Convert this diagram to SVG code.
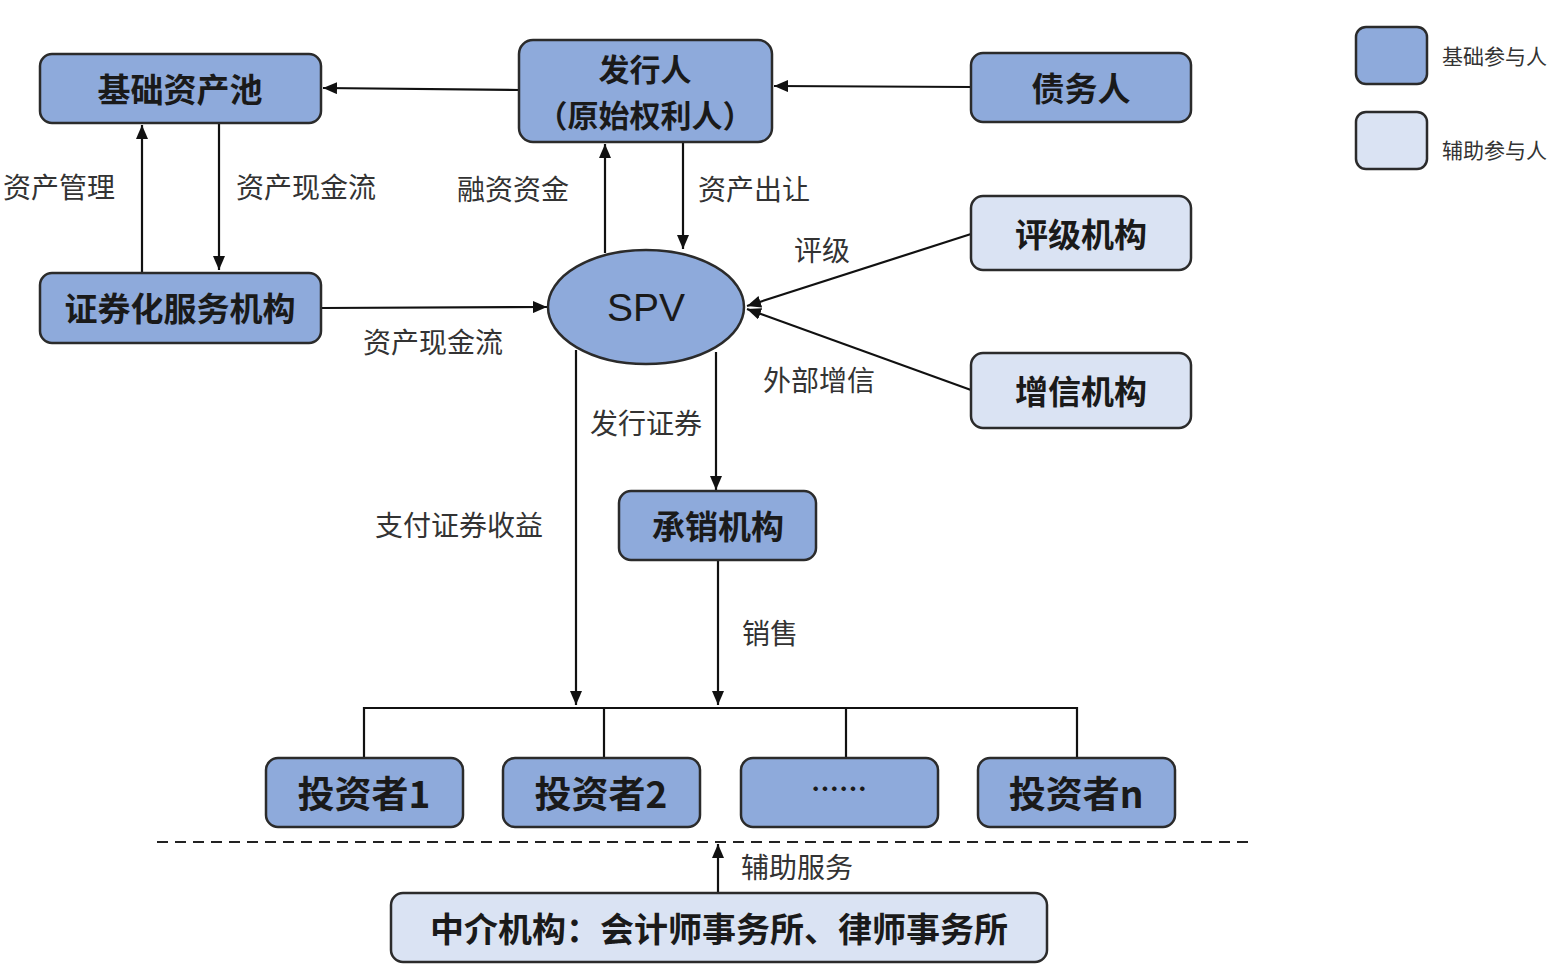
<svg xmlns="http://www.w3.org/2000/svg" width="1559" height="965" viewBox="0 0 1559 965">
<defs>
<marker id="ah" viewBox="0 0 14 12" refX="14" refY="6" markerWidth="14" markerHeight="12" markerUnits="userSpaceOnUse" orient="auto"><path d="M0,0 L14,6 L0,12 z" fill="#111"/></marker>
<style>
.base{fill:#8eaadb;stroke:#2b2b2b;stroke-width:2.5}
.aux{fill:#dae3f3;stroke:#2b2b2b;stroke-width:2.5}
.t{font-family:"Noto Sans CJK SC","Liberation Sans",sans-serif;font-weight:bold;fill:#1a1a1a;text-anchor:middle;dominant-baseline:central}
.l{font-family:"Noto Sans CJK SC","Liberation Sans",sans-serif;fill:#333;font-size:28px;dominant-baseline:central}
.c{fill:none;stroke:#111;stroke-width:2.2}
.ca{fill:none;stroke:#111;stroke-width:2.2;marker-end:url(#ah)}
</style>
</defs>
<rect width="1559" height="965" fill="#fff"/>
<g id="connectors">
<line class="ca" x1="519" y1="90" x2="323" y2="88"/>
<line class="ca" x1="971" y1="87" x2="774" y2="86"/>
<line class="ca" x1="142" y1="273" x2="142" y2="125"/>
<line class="ca" x1="219" y1="124" x2="219" y2="270"/>
<line class="ca" x1="322" y1="308" x2="547" y2="307"/>
<line class="ca" x1="605" y1="253" x2="605" y2="144"/>
<line class="ca" x1="683" y1="143" x2="683" y2="249"/>
<line class="ca" x1="971" y1="234" x2="747" y2="306"/>
<line class="ca" x1="971" y1="390" x2="747" y2="309"/>
<line class="ca" x1="716" y1="352" x2="716" y2="490"/>
<line class="ca" x1="576" y1="350" x2="576" y2="705"/>
<line class="ca" x1="718" y1="561" x2="718" y2="705"/>
<polyline class="c" points="364,758 364,708 1077,708 1077,758"/>
<line class="c" x1="604" y1="708" x2="604" y2="758"/>
<line class="c" x1="846" y1="708" x2="846" y2="758"/>
<line x1="157" y1="842" x2="1253" y2="842" stroke="#222" stroke-width="2.2" stroke-dasharray="11,7"/>
<line class="ca" x1="718" y1="893" x2="718" y2="844"/>
<text class="l" x="3" y="186">资产管理</text>
<text class="l" x="236" y="186">资产现金流</text>
<text class="l" x="457" y="188">融资资金</text>
<text class="l" x="698" y="188">资产出让</text>
<text class="l" x="794" y="249">评级</text>
<text class="l" x="363" y="341">资产现金流</text>
<text class="l" x="763" y="379">外部增信</text>
<text class="l" x="590" y="422">发行证券</text>
<text class="l" x="375" y="524">支付证券收益</text>
<text class="l" x="742" y="632">销售</text>
<text class="l" x="741" y="866">辅助服务</text>
</g>
<g id="n-pool"><rect class="base" x="40" y="54" width="281" height="69" rx="12"/><text class="t" x="180" y="88" font-size="33">基础资产池</text></g>
<g id="n-issuer"><rect class="base" x="519" y="40" width="253" height="102" rx="14"/><text class="t" x="645" y="67" font-size="31">发行人</text><text class="t" x="645" y="113" font-size="31">（原始权利人）</text></g>
<g id="n-debtor"><rect class="base" x="971" y="53" width="220" height="69" rx="12"/><text class="t" x="1081" y="87" font-size="33">债务人</text></g>
<g id="n-servicer"><rect class="base" x="40" y="273" width="281" height="70" rx="12"/><text class="t" x="180" y="307" font-size="33">证券化服务机构</text></g>
<g id="n-spv"><ellipse class="base" cx="646" cy="307" rx="98" ry="57"/><text x="646" y="307" font-size="39" fill="#1a1a1a" text-anchor="middle" dominant-baseline="central" font-family="'Liberation Sans',sans-serif">SPV</text></g>
<g id="n-rating"><rect class="aux" x="971" y="196" width="220" height="74" rx="12"/><text class="t" x="1081" y="233" font-size="33">评级机构</text></g>
<g id="n-credit"><rect class="aux" x="971" y="353" width="220" height="75" rx="12"/><text class="t" x="1081" y="390" font-size="33">增信机构</text></g>
<g id="n-underwriter"><rect class="base" x="619" y="491" width="197" height="69" rx="12"/><text class="t" x="718" y="525" font-size="33">承销机构</text></g>
<g id="n-inv1"><rect class="base" x="266" y="758" width="197" height="69" rx="12"/><text class="t" x="364" y="792" font-size="37">投资者1</text></g>
<g id="n-inv2"><rect class="base" x="503" y="758" width="197" height="69" rx="12"/><text class="t" x="601" y="792" font-size="37">投资者2</text></g>
<g id="n-inv3"><rect class="base" x="741" y="758" width="197" height="69" rx="12"/><text class="t" x="839" y="788" font-size="28">……</text></g>
<g id="n-invn"><rect class="base" x="978" y="758" width="197" height="69" rx="12"/><text class="t" x="1076" y="792" font-size="37">投资者n</text></g>
<g id="n-agency"><rect class="aux" x="391" y="893" width="656" height="69" rx="12"/><text class="t" x="719" y="927" font-size="34">中介机构：会计师事务所、律师事务所</text></g>
<g id="legend">
<rect class="base" x="1356" y="27" width="71" height="57" rx="10"/>
<rect class="aux" x="1356" y="112" width="71" height="57" rx="10"/>
<text class="l" x="1442" y="55" style="font-size:21px">基础参与人</text>
<text class="l" x="1442" y="149" style="font-size:21px">辅助参与人</text>
</g>
</svg>
